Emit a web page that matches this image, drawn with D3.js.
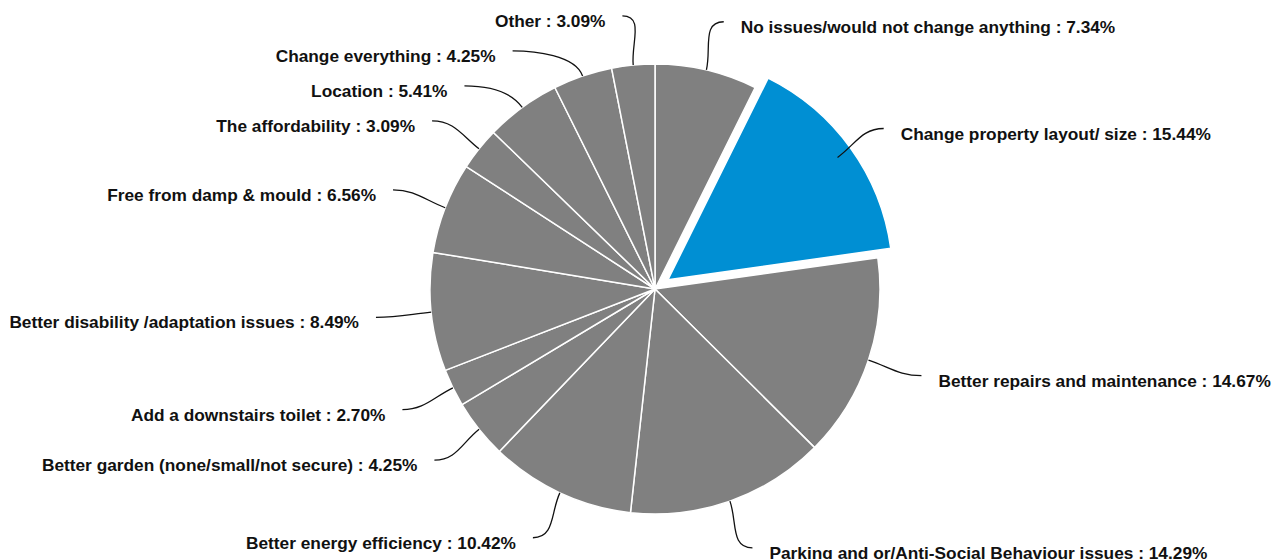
<!DOCTYPE html>
<html>
<head>
<meta charset="utf-8">
<script src="https://cdn.jsdelivr.net/npm/d3@7"></script>
<style>
  html, body { margin: 0; padding: 0; background: #fff; }
  svg { display: block; }
  .lbl { font-family: "Liberation Sans", Arial, sans-serif; font-weight: bold; font-size: 17.3px; fill: #111; }
</style>
</head>
<body>
<svg id="chart" width="1282" height="559"></svg>
<script>
// Survey answers: what would you change about your home?
const categories = [
  "No issues/would not change anything",
  "Change property layout/ size",
  "Better repairs and maintenance",
  "Parking and or/Anti-Social Behaviour issues",
  "Better energy efficiency",
  "Better garden (none/small/not secure)",
  "Add a downstairs toilet",
  "Better disability /adaptation issues",
  "Free from damp & mould",
  "The affordability",
  "Location",
  "Change everything",
  "Other"
];
const percentages = [7.34, 15.44, 14.67, 14.29, 10.42, 4.25, 2.70, 8.49, 6.56, 3.09, 5.41, 4.25, 3.09];
const highlighted = ["Change property layout/ size"];

const data = categories.map((c, i) => ({ name: c, value: percentages[i] }));

const cx = 655, cy = 289;
const radius = 225;
const explode = 16;
const labelRadius = 274.5;
const labelShift = 6;     // extra horizontal push of each connector end
const textGap = 17;
const minGap = 35;

const svg = d3.select("#chart");
const g = svg.append("g").attr("transform", `translate(${cx},${cy})`);

const pie = d3.pie().sort(null).value(d => d.value);
const arcs = pie(data);
const arcGen = d3.arc().innerRadius(0).outerRadius(radius);

const mid = d => (d.startAngle + d.endAngle) / 2;
const polar = (a, r) => [Math.sin(a) * r, -Math.cos(a) * r];

// slices
g.selectAll("path.slice")
  .data(arcs)
  .join("path")
  .attr("class", "slice")
  .attr("d", arcGen)
  .attr("transform", d => {
    if (!highlighted.includes(d.data.name)) return null;
    const [dx, dy] = polar(mid(d), explode);
    return `translate(${dx},${dy})`;
  })
  .attr("fill", d => highlighted.includes(d.data.name) ? "#008fd3" : "#808080")
  .attr("stroke", "#fff")
  .attr("stroke-width", 1.5)
  .attr("stroke-linejoin", "round");

// label placement: start on an outer circle, then push apart vertically per side
const labels = arcs.map(d => {
  const a = mid(d);
  const [x, y] = polar(a, labelRadius);
  return { d, a, x, y, right: Math.sin(a) >= 0 };
});

function relax(list) {
  list.sort((p, q) => p.y - q.y);
  for (let i = 1; i < list.length; i++) {
    if (list[i].y - list[i - 1].y < minGap) list[i].y = list[i - 1].y + minGap;
  }
  list.forEach(l => {
    const dy = Math.max(-labelRadius, Math.min(labelRadius, l.y));
    const dx = Math.sqrt(labelRadius * labelRadius - dy * dy) + labelShift;
    l.x = l.right ? dx : -dx;
  });
}
relax(labels.filter(l => l.right));
relax(labels.filter(l => !l.right));

// leader lines
const lineG = g.append("g");
labels.forEach(l => {
  const [x0, y0] = polar(l.a, radius);
  const [ux, uy] = polar(l.a, 1);
  const k = 22;
  const p = d3.path();
  p.moveTo(x0, y0);
  p.bezierCurveTo(x0 + ux * k, y0 + uy * k,
                  l.x + (l.right ? -k : k), l.y,
                  l.x, l.y);
  lineG.append("path")
    .attr("d", p.toString())
    .attr("fill", "none")
    .attr("stroke", "#111")
    .attr("stroke-width", 1.3);
});

// label text
g.append("g").selectAll("text")
  .data(labels)
  .join("text")
  .attr("class", "lbl")
  .attr("x", l => l.right ? l.x + textGap : l.x - textGap)
  .attr("y", l => l.y + 5)
  .attr("dominant-baseline", "central")
  .attr("text-anchor", l => l.right ? "start" : "end")
  .text(l => `${l.d.data.name} : ${d3.format(".2f")(l.d.data.value)}%`);
</script>
</body>
</html>
